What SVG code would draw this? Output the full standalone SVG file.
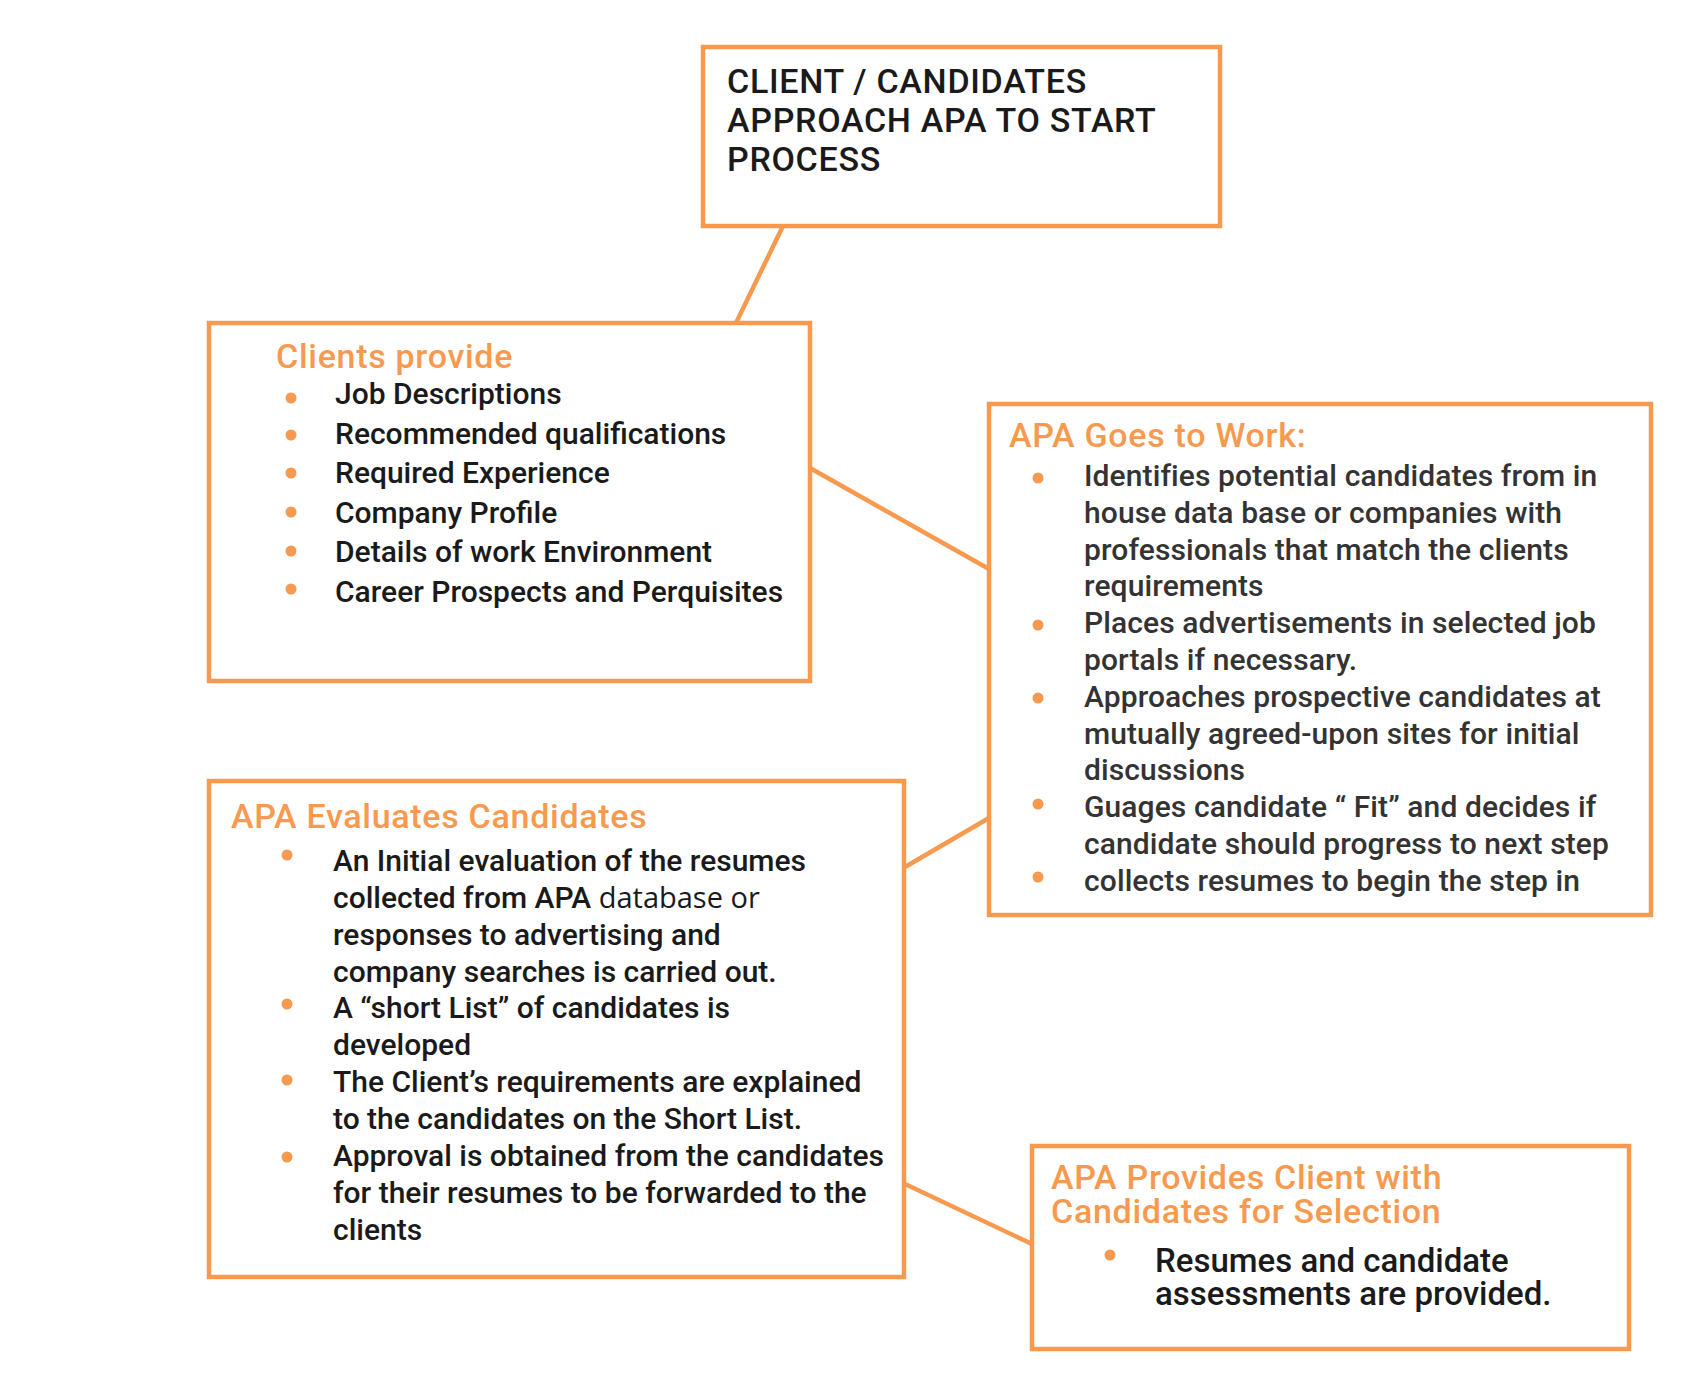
<svg xmlns="http://www.w3.org/2000/svg" width="1700" height="1380" viewBox="0 0 1700 1380">
<style>
.box{fill:#fff;stroke:#F79A4F;stroke-width:4.5}
.conn{stroke:#F79A4F;stroke-width:4.5;fill:none}
.title{font-family:Roboto,"Liberation Sans",sans-serif;font-weight:500;fill:#F79A4F;font-size:34px;letter-spacing:0.7px}
.body{font-family:Roboto,"Liberation Sans",sans-serif;font-weight:500;fill:#1a1a1a}
.gray{fill:#333}
.dot{fill:#F79A4F}
</style>
<rect width="1700" height="1380" fill="#fff"/>
<g id="connectors">
<line class="conn" x1="783" y1="226" x2="736" y2="323"/>
<line class="conn" x1="810" y1="468" x2="989" y2="569"/>
<line class="conn" x1="989" y1="818" x2="905" y2="867"/>
<line class="conn" x1="905" y1="1184" x2="1032" y2="1244"/>
</g>
<g id="node-start">
<rect class="box" x="703" y="47" width="517" height="179"/>
<text class="body" font-size="34" letter-spacing="0.7" x="727" y="93">CLIENT / CANDIDATES<tspan x="727" dy="39">APPROACH APA TO START</tspan><tspan x="727" dy="39">PROCESS</tspan></text>
</g>
<g id="node-clients">
<rect class="box" x="209" y="323" width="601" height="358"/>
<text class="title" x="276" y="368" letter-spacing="0.6">Clients provide</text>
<text class="body" font-size="30" x="335" y="404">Job Descriptions<tspan x="335" dy="39.5">Recommended qualifications</tspan><tspan x="335" dy="39.5">Required Experience</tspan><tspan x="335" dy="39.5">Company Profile</tspan><tspan x="335" dy="39.5">Details of work Environment</tspan><tspan x="335" dy="39.5">Career Prospects and Perquisites</tspan></text>
<circle class="dot" cx="291" cy="398" r="5.5"/>
<circle class="dot" cx="291" cy="435" r="5.5"/>
<circle class="dot" cx="291" cy="473" r="5.5"/>
<circle class="dot" cx="291" cy="512" r="5.5"/>
<circle class="dot" cx="291" cy="551" r="5.5"/>
<circle class="dot" cx="291" cy="589" r="5.5"/>
</g>
<g id="node-work">
<rect class="box" x="989" y="404" width="662" height="511"/>
<text class="title" x="1009" y="447">APA Goes to Work:</text>
<text class="body gray" font-size="30" letter-spacing="0.1" x="1084" y="486">Identifies potential candidates from in<tspan x="1084" dy="36.8">house data base or companies with</tspan><tspan x="1084" dy="36.8">professionals that match the clients</tspan><tspan x="1084" dy="36.8">requirements</tspan><tspan x="1084" dy="36.8">Places advertisements in selected job</tspan><tspan x="1084" dy="36.8">portals if necessary.</tspan><tspan x="1084" dy="36.8">Approaches prospective candidates at</tspan><tspan x="1084" dy="36.8">mutually agreed-upon sites for initial</tspan><tspan x="1084" dy="36.8">discussions</tspan><tspan x="1084" dy="36.8">Guages candidate “ Fit” and decides if</tspan><tspan x="1084" dy="36.8">candidate should progress to next step</tspan><tspan x="1084" dy="36.8">collects resumes to begin the step in</tspan></text>
<circle class="dot" cx="1038" cy="478" r="5.5"/>
<circle class="dot" cx="1038" cy="625" r="5.5"/>
<circle class="dot" cx="1038" cy="698" r="5.5"/>
<circle class="dot" cx="1038" cy="804" r="5.5"/>
<circle class="dot" cx="1038" cy="877" r="5.5"/>
</g>
<g id="node-evaluate">
<rect class="box" x="209" y="781" width="695" height="496"/>
<text class="title" x="231" y="828">APA Evaluates Candidates</text>
<text class="body" font-size="30" x="333" y="871">An Initial evaluation of the resumes<tspan x="333" dy="36.86">collected from APA </tspan><tspan font-weight="400" font-family="'Open Sans',sans-serif" font-size="29">database or</tspan><tspan x="333" dy="36.86">responses to advertising and</tspan><tspan x="333" dy="36.86">company searches is carried out.</tspan><tspan x="333" dy="36.86">A “short List” of candidates is</tspan><tspan x="333" dy="36.86">developed</tspan><tspan x="333" dy="36.86">The Client’s requirements are explained</tspan><tspan x="333" dy="36.86">to the candidates on the Short List.</tspan><tspan x="333" dy="36.86">Approval is obtained from the candidates</tspan><tspan x="333" dy="36.86">for their resumes to be forwarded to the</tspan><tspan x="333" dy="36.86">clients</tspan></text>
<circle class="dot" cx="287" cy="855" r="5.5"/>
<circle class="dot" cx="287" cy="1004" r="5.5"/>
<circle class="dot" cx="287" cy="1080" r="5.5"/>
<circle class="dot" cx="287" cy="1157" r="5.5"/>
</g>
<g id="node-provide">
<rect class="box" x="1032" y="1146" width="597" height="203"/>
<text class="title" font-weight="400" letter-spacing="1.3" x="1051" y="1189">APA Provides Client with<tspan x="1051" dy="34">Candidates for Selection</tspan></text>
<text class="body" font-size="33" x="1155" y="1272">Resumes and candidate<tspan x="1155" dy="33">assessments are provided.</tspan></text>
<circle class="dot" cx="1110" cy="1255" r="5.5"/>
</g>
</svg>
